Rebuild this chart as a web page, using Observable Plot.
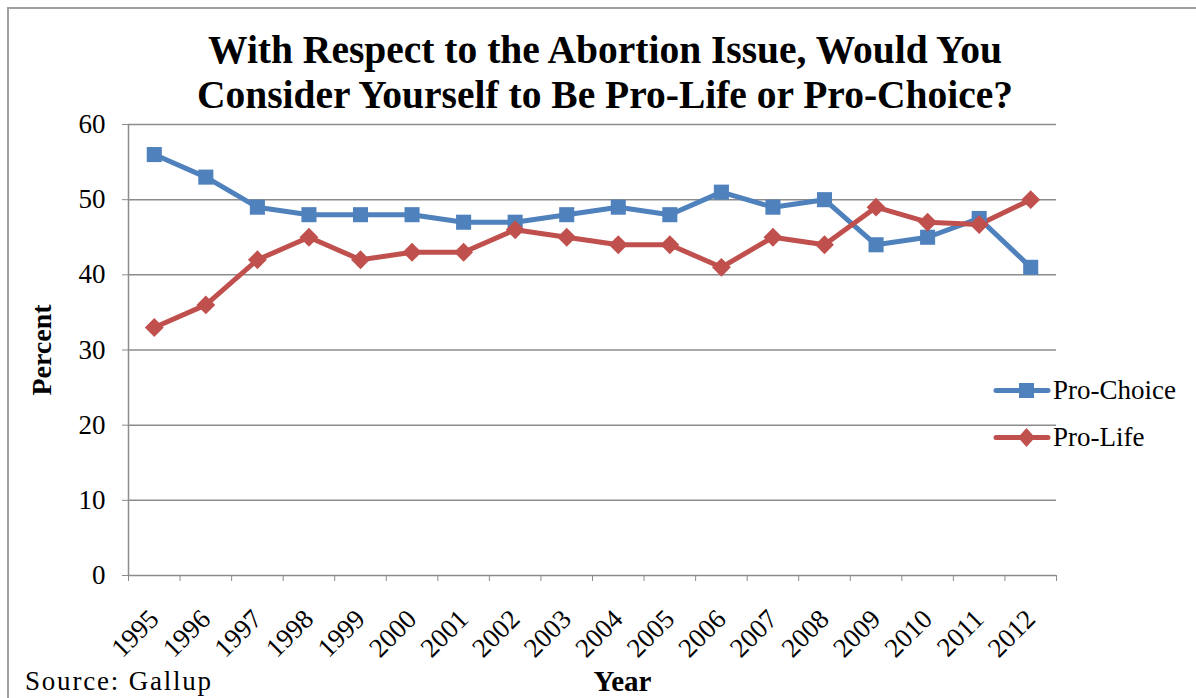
<!DOCTYPE html>
<html>
<head>
<meta charset="utf-8">
<script src="https://cdn.jsdelivr.net/npm/d3@7"></script>
<script src="https://cdn.jsdelivr.net/npm/@observablehq/plot@0.6"></script>
<style>
  html, body { margin: 0; padding: 0; background: #fff; }
  #wrap { position: relative; width: 1196px; height: 698px; overflow: hidden; font-family: "Liberation Serif", serif; }
  #frame { position: absolute; left: 7px; top: 7px; width: 1200px; height: 700px; border: 2px solid #a0a0a0; box-sizing: border-box; }
  #title { position: absolute; left: 0; top: 28px; width: 1210px; text-align: center; font-weight: bold; font-size: 39.5px; line-height: 45px; color: #000; }
  #chart { position: absolute; left: 0; top: 115px; }
  #legend { position: absolute; left: 993px; top: 367px; font-size: 27px; color: #000; }
  #legend .row { display: flex; align-items: center; height: 47px; }
  #legend svg { margin-right: 2px; }
  #source { position: absolute; left: 25px; top: 668px; font-size: 27px; line-height: 26px; letter-spacing: 1.8px; color: #000; }
</style>
</head>
<body>
<div id="wrap">
  <div id="frame"></div>
  <div id="title">With Respect to the Abortion Issue, Would You<br>Consider Yourself to Be Pro-Life or Pro-Choice?</div>
  <div id="chart"></div>
  <div id="legend"></div>
  <div id="source">Source: Gallup</div>
</div>
<script>
const years = [1995,1996,1997,1998,1999,2000,2001,2002,2003,2004,2005,2006,2007,2008,2009,2010,2011,2012];
const proChoice = [56,53,49,48,48,48,47,47,48,49,48,51,49,50,44,45,47.5,41];
const proLife   = [33,36,42,45,42,43,43,46,45,44,44,41,45,44,49,47,46.7,50];
const yTicks = [0,10,20,30,40,50,60];
const seriesNames = ["Pro-Choice","Pro-Life"];
const colors = ["#4F81BD","#C0504D"];
const symbols = ["square","diamond2"];

const data = [];
years.forEach((y,i) => {
  data.push({year:y, value:proChoice[i], series:seriesNames[0]});
  data.push({year:y, value:proLife[i], series:seriesNames[1]});
});
const boundaries = d3.range(years[0]-0.5, years[years.length-1]+1, 1);

const font = "Liberation Serif, serif";
const plot = Plot.plot({
  width: 1196,
  height: 583,
  marginLeft: 128,
  marginRight: 140,
  marginTop: 9,
  marginBottom: 123,
  style: {fontFamily: font, fontSize: "27px", color: "#000", background: "transparent", overflow: "visible"},
  x: {domain: [years[0]-0.5, years[years.length-1]+0.5], type: "linear"},
  y: {domain: [0, 60]},
  color: {domain: seriesNames, range: colors},
  symbol: {domain: seriesNames, range: symbols},
  marks: [
    Plot.gridY(yTicks.filter(d => d > 0), {stroke: "#8c8c8c", strokeOpacity: 1, strokeWidth: 1.5}),
    Plot.axisY({ticks: yTicks, tickSize: 6, tickPadding: 17, stroke: "#8c8c8c", label: null, fontSize: 27}),
    Plot.ruleX([years[0]-0.5], {stroke: "#8c8c8c", strokeWidth: 1.5}),
    Plot.ruleY([0], {stroke: "#8c8c8c", strokeWidth: 1.5}),
    Plot.axisX({ticks: boundaries, tickSize: 6, stroke: "#8c8c8c", tickFormat: () => "", label: null}),
    Plot.axisX({ticks: years, tickSize: 0, tickFormat: d => String(d), tickRotate: -45, tickPadding: 39, dx: 0, label: null, fontSize: 27}),
    Plot.line(data, {x: "year", y: "value", stroke: "series", strokeWidth: 5, strokeLinejoin: "round"}),
    Plot.dot(data, {x: "year", y: "value", fill: "series", symbol: "series", r: 8.5, stroke: null}),
    Plot.text(["Percent"], {frameAnchor: "left", textAnchor: "middle", dx: -86, rotate: -90, fontWeight: "bold", fontSize: 28, text: d => d}),
    Plot.text(["Year"], {frameAnchor: "bottom", dy: 115, dx: 30, fontWeight: "bold", fontSize: 29, text: d => d})
  ]
});
document.getElementById("chart").appendChild(plot);

const legend = document.getElementById("legend");
seriesNames.forEach((name, i) => {
  const row = document.createElement("div");
  row.className = "row";
  const shape = symbols[i] === "square"
    ? `<rect x="26" y="9" width="15" height="15" fill="${colors[i]}"/>`
    : `<path d="M33.5,7 L42,16.5 L33.5,26 L25,16.5 Z" fill="${colors[i]}"/>`;
  row.innerHTML = `<svg width="58" height="33"><line x1="3" y1="16.5" x2="55" y2="16.5" stroke="${colors[i]}" stroke-width="5" stroke-linecap="round"/>${shape}</svg><span>${name}</span>`;
  legend.appendChild(row);
});
</script>
</body>
</html>
